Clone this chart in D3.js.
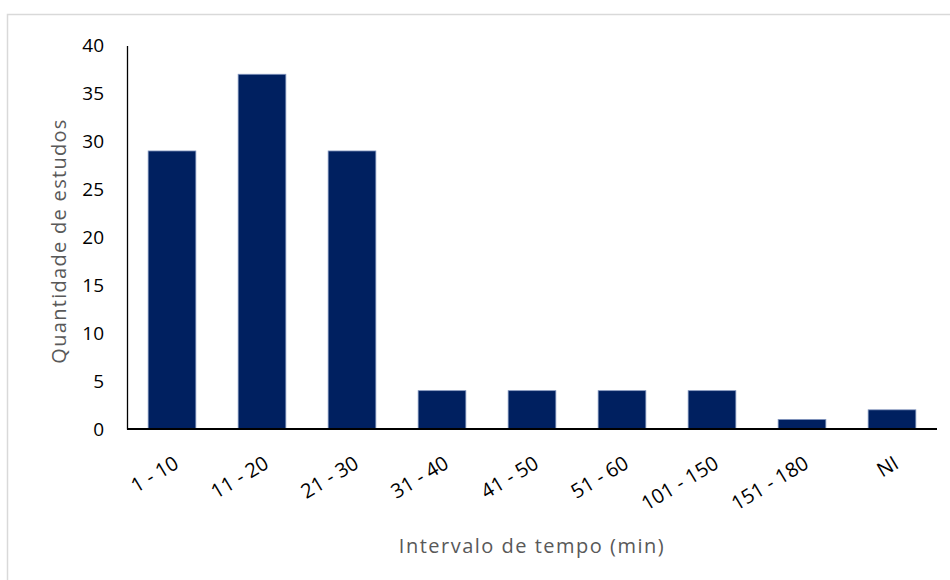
<!DOCTYPE html>
<html>
<head>
<meta charset="utf-8">
<script src="https://cdn.jsdelivr.net/npm/d3@7"></script>
<style>
  body { margin: 0; background: #fff; }
  svg { font-family: "Open Sans", "Liberation Sans", sans-serif; }
</style>
</head>
<body>
<div id="chart"></div>
<script>
var w = 950,
    h = 580;

// Data
var categories = ["1 - 10", "11 - 20", "21 - 30", "31 - 40", "41 - 50", "51 - 60", "101 - 150", "151 - 180", "NI"];
var values = [29, 37, 29, 4, 4, 4, 4, 1, 2];
var yTicks = [0, 5, 10, 15, 20, 25, 30, 35, 40];

var margin = {top: 45, left: 127, right: 13, bottom: 151};
var font = "'Open Sans', 'Liberation Sans', sans-serif";

var svg = d3.select("#chart")
  .append("svg")
  .attr("width", w)
  .attr("height", h);

// chart frame
svg.append("rect")
  .attr("x", 7.5)
  .attr("y", 14.5)
  .attr("width", 1000)
  .attr("height", 1000)
  .attr("fill", "none")
  .attr("stroke", "#d9d9d9")
  .attr("stroke-width", 1.5);

var x = d3.scaleBand()
  .domain(categories)
  .range([margin.left, w - margin.right])
  .paddingInner(0.47)
  .paddingOuter(0.235);

var y = d3.scaleLinear()
  .domain([0, 40])
  .range([h - margin.bottom, margin.top + 0.5]);

// bars
svg.selectAll("rect.bar")
  .data(values)
  .enter()
  .append("rect")
  .attr("class", "bar")
  .attr("x", function(d, i) { return x(categories[i]); })
  .attr("y", function(d) { return y(d); })
  .attr("width", x.bandwidth())
  .attr("height", function(d) { return y(0) - y(d); })
  .attr("fill", "#002060")
  .attr("stroke", "#8497c0")
  .attr("stroke-width", 0.8);

// y axis
var yAxis = svg.append("g")
  .attr("transform", "translate(" + margin.left + ",0)")
  .call(d3.axisLeft(y).tickValues(yTicks).tickSize(0).tickPadding(23))
  .attr("font-family", font);
yAxis.select(".domain").attr("stroke", "#000").attr("stroke-width", 1.3);
yAxis.selectAll("text")
  .attr("font-size", "19px")
  .attr("fill", "#000");

// x axis
var xAxis = svg.append("g")
  .attr("transform", "translate(0," + y(0) + ")")
  .call(d3.axisBottom(x).tickSize(0).tickPadding(0))
  .attr("font-family", font);
xAxis.select(".domain").attr("stroke", "#000").attr("stroke-width", 2).attr("d", "M" + margin.left + ",0H" + (w - margin.right));
xAxis.selectAll("text")
  .attr("font-size", "20px")
  .attr("fill", "#000")
  .attr("text-anchor", "end")
  .attr("dy", 0)
  .attr("transform", function() { return "translate(8,38) rotate(-31)"; });

// axis titles
svg.append("text")
  .attr("transform", "translate(66,241) rotate(-90)")
  .attr("text-anchor", "middle")
  .attr("font-size", "20px")
  .attr("letter-spacing", "1.3px")
  .attr("fill", "#595959")
  .text("Quantidade de estudos");

svg.append("text")
  .attr("x", 532)
  .attr("y", 553)
  .attr("text-anchor", "middle")
  .attr("font-size", "20px")
  .attr("letter-spacing", "1.5px")
  .attr("fill", "#595959")
  .text("Intervalo de tempo (min)");
</script>
</body>
</html>
